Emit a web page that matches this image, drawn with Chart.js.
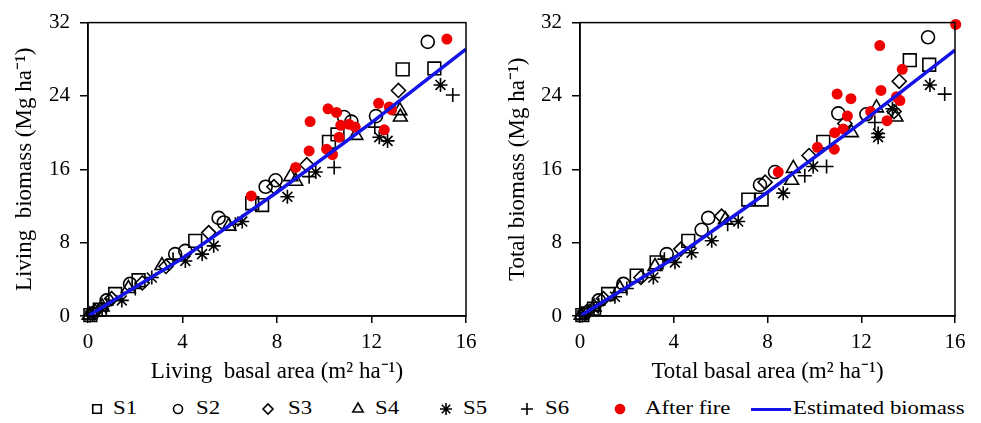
<!DOCTYPE html>
<html>
<head>
<meta charset="utf-8">
<script src="https://cdn.jsdelivr.net/npm/chart.js@4.4.0/dist/chart.umd.min.js"></script>
<style>
    body{margin:0;background:#fff;width:981px;height:423px;overflow:hidden;position:relative;font-family:"Liberation Serif","Times New Roman",serif;}
    #cajaIzq{position:absolute;left:0;top:0;width:490px;height:392px;}
    #cajaDer{position:absolute;left:490px;top:0;width:491px;height:392px;}
    .txtLey{position:absolute;top:397px;font-size:19px;line-height:22px;color:#000;white-space:nowrap;transform:scaleX(1.2);transform-origin:left center;}
    .marLey{position:absolute;top:399px;}
    #lineaLey{position:absolute;left:751px;top:408px;width:40px;height:3px;background:rgb(20,20,230);}
</style>
</head>
<body>
<div id="cajaIzq"><canvas id="graficoVivo" width="490" height="392"></canvas></div>
<div id="cajaDer"><canvas id="graficoTotal" width="491" height="392"></canvas></div>

<canvas class="marLey" id="ley1" width="20" height="20" style="left:87px"></canvas><span class="txtLey" style="left:113px">S1</span>
<canvas class="marLey" id="ley2" width="20" height="20" style="left:168px"></canvas><span class="txtLey" style="left:196px">S2</span>
<canvas class="marLey" id="ley3" width="20" height="20" style="left:258px"></canvas><span class="txtLey" style="left:288px">S3</span>
<canvas class="marLey" id="ley4" width="20" height="20" style="left:348px"></canvas><span class="txtLey" style="left:375px">S4</span>
<canvas class="marLey" id="ley5" width="20" height="20" style="left:436px"></canvas><span class="txtLey" style="left:463px">S5</span>
<canvas class="marLey" id="ley6" width="20" height="20" style="left:517px"></canvas><span class="txtLey" style="left:545px">S6</span>
<canvas class="marLey" id="ley7" width="20" height="20" style="left:610px"></canvas><span class="txtLey" style="left:645px">After fire</span>
<div id="lineaLey"></div><span class="txtLey" style="left:793px">Estimated biomass</span>

<script>
// ---- living basal area vs living biomass ----
const s1Vivo = [[0.1,0.1],[0.5,0.7],[1.15,2.4],[2.14,3.9],[4.54,8.2],[6.95,12.3],[7.37,12.1],[10.2,19.0],[10.56,19.8],[13.32,26.9],[14.66,27.0]]
const s2Vivo = [[0.2,0.3],[0.79,1.7],[1.78,3.5],[3.69,6.75],[4.12,7.1],[5.53,10.7],[5.75,10.2],[7.52,14.1],[7.94,14.8],[10.84,21.7],[11.15,21.2],[12.19,21.8],[14.38,29.9]]
const s3Vivo = [[0.3,0.5],[1.0,1.9],[2.3,3.6],[3.3,5.4],[5.11,9.1],[7.87,14.1],[9.26,16.5],[13.14,24.6]]
const s4Vivo = [[0.05,0.1],[0.6,1.0],[1.71,3.0],[3.13,5.5],[5.96,9.8],[8.58,15.2],[8.79,14.7],[11.34,19.7],[13.22,21.7],[13.2,22.4]]
const s5Vivo = [[0.1,0.05],[0.6,0.8],[1.43,1.7],[2.70,4.2],[4.12,6.0],[4.83,6.75],[5.32,7.65],[6.53,10.3],[8.44,13.0],[9.64,15.7],[12.33,19.5],[12.68,19.1],[14.92,25.2]]
const s6Vivo = [[0.2,0.1],[0.8,1.2],[2.0,3.0],[3.6,6.2],[6.24,10.0],[9.36,15.2],[10.42,16.2],[12.14,20.6],[15.44,24.1]]
const fuegoVivo = [[6.91,13.1],[8.79,16.2],[9.36,18.0],[9.40,21.2],[10.1,18.2],[10.16,22.6],[10.35,17.6],[10.52,22.2],[10.63,19.5],[10.70,20.8],[11.05,20.9],[11.31,20.6],[12.30,23.2],[12.54,20.3],[12.75,22.8],[12.85,22.5],[15.19,30.2]]
const estimadoVivo = [[0,0],[4,6.3],[8,13.5],[12,21.1],[16,29.1]]

// ---- total basal area vs total biomass ----
const s1Total = [[0.1,0.1],[0.6,0.8],[1.2,2.4],[2.42,4.4],[3.27,5.85],[4.62,8.2],[7.18,12.7],[7.75,12.7],[10.38,19.0],[14.07,27.9],[14.9,27.4]]
const s2Total = [[0.2,0.3],[0.8,1.7],[1.85,3.5],[3.70,6.75],[5.19,9.4],[5.47,10.7],[7.68,14.3],[8.32,15.7],[11.02,22.1],[12.22,22.0],[14.85,30.4]]
const s3Total = [[0.3,0.5],[1.0,1.9],[2.6,4.2],[4.3,7.3],[6.04,10.9],[7.9,14.6],[9.77,17.5],[11.3,21.0],[13.4,22.3],[13.62,25.6]]
const s4Total = [[0.05,0.1],[0.6,1.0],[1.7,3.0],[3.2,5.4],[6.2,10.5],[9.03,14.8],[9.1,16.1],[11.58,20.0],[12.65,22.7],[13.48,21.7]]
const s5Total = [[0.1,0.05],[0.6,0.8],[1.49,2.1],[3.13,4.2],[4.05,5.85],[4.76,6.9],[5.62,8.2],[6.75,10.3],[8.67,13.4],[9.95,16.3],[12.72,19.9],[12.72,19.5],[13.33,22.6],[14.93,25.2]]
const s6Total = [[0.2,0.1],[0.8,1.2],[2.0,3.0],[3.6,6.2],[6.3,10.0],[9.59,15.3],[10.52,16.3],[12.58,21.1],[15.56,24.2]]
const fuegoTotal = [[8.46,15.7],[10.13,18.4],[10.85,18.2],[10.87,20.0],[10.97,24.2],[11.23,20.4],[11.41,21.8],[11.56,23.7],[12.4,22.3],[12.79,29.5],[12.84,24.6],[13.1,21.3],[13.5,23.9],[13.65,23.5],[13.75,26.9],[16.03,31.8]]
const estimadoTotal = [[0,0],[4,6.3],[8,13.5],[12,21.1],[16,29.0]]

const ticksX = [0,4,8,12,16]
const ticksY = [0,8,16,24,32]

const negro = '#000'
const rojo = 'rgb(240,0,0)'
const azul = 'rgb(20,20,230)'

// estilo de cada serie (marcador, radio)
const estilos = [
    ['S1','rect',9],
    ['S2','circle',6.5],
    ['S3','rectRot',7],
    ['S4','triangle',8],
    ['S5','star',7],
    ['S6','cross',7]
]

const marco = {
    id: 'marco',
    afterDraw(chart){
        const a = chart.chartArea
        const ctx = chart.ctx
        ctx.save()
        ctx.strokeStyle = negro
        ctx.lineWidth = 1.5
        ctx.strokeRect(a.left, a.top, a.right - a.left, a.bottom - a.top)
        ctx.restore()
    }
}

function aPuntos(arr){
    return arr.map(p => ({x: p[0], y: p[1]}))
}

function armarDatasets(series, fuego, estimado){
    let datasets = []
    series.forEach(function(value,key){
        datasets.push({
            label: estilos[key][0],
            data: aPuntos(value),
            pointStyle: estilos[key][1],
            pointRadius: estilos[key][2],
            pointBorderWidth: 1.6,
            borderColor: negro,
            backgroundColor: 'rgba(0,0,0,0)',
            clip: false,
            order: 2
        })
    })
    datasets.push({
        label: 'After fire',
        data: aPuntos(fuego),
        pointStyle: 'circle',
        pointRadius: 5.5,
        pointBorderWidth: 0,
        borderColor: rojo,
        backgroundColor: rojo,
        clip: false,
        order: 1
    })
    datasets.push({
        label: 'Estimated biomass',
        data: aPuntos(estimado),
        showLine: true,
        pointRadius: 0,
        borderColor: azul,
        borderWidth: 3.5,
        backgroundColor: azul,
        clip: false,
        order: 0
    })
    return datasets
}

function grafico(id, series, fuego, estimado, tituloX, tituloY, anchoY, derecha, sepTitulo){

    const familia = "'Liberation Serif','Times New Roman',serif"
    const options = {
        responsive: false,
        animation: false,
        layout: { padding: {left: 0, top: 17, right: derecha, bottom: 0} },
        plugins: {
            legend: { display: false },
            tooltip: { enabled: false }
        },
        scales: {
            x: {
                type: 'linear',
                min: 0,
                max: 16,
                afterBuildTicks: function(axis){ axis.ticks = ticksX.map(v => ({value: v})) },
                afterFit: function(axis){ axis.height = 76 },
                ticks: { color: negro, font: {family: familia, size: 21}, padding: 7, maxRotation: 0 },
                grid: { drawOnChartArea: false, drawTicks: true, tickLength: 7, color: negro, lineWidth: 1.5 },
                border: { color: negro, width: 1.5 },
                title: { display: true, text: tituloX, color: negro, font: {family: familia, size: 23}, padding: {top: 0, bottom: 6} }
            },
            y: {
                type: 'linear',
                min: 0,
                max: 32,
                afterBuildTicks: function(axis){ axis.ticks = ticksY.map(v => ({value: v})) },
                afterFit: function(axis){ axis.width = anchoY },
                ticks: { color: negro, font: {family: familia, size: 21}, padding: 10 },
                grid: { drawOnChartArea: false, drawTicks: true, tickLength: 8, color: negro, lineWidth: 1.5 },
                border: { color: negro, width: 1.5 },
                title: { display: true, text: tituloY, color: negro, font: {family: familia, size: 23}, padding: {top: sepTitulo, bottom: 0} }
            }
        }
    }

    new Chart(document.getElementById(id), {
        type: 'scatter',
        data: { datasets: armarDatasets(series, fuego, estimado) },
        options: options,
        plugins: [marco]
    })
}

grafico('graficoVivo', [s1Vivo,s2Vivo,s3Vivo,s4Vivo,s5Vivo,s6Vivo], fuegoVivo, estimadoVivo,
    'Living  basal area (m² ha⁻¹)', 'Living  biomass (Mg ha⁻¹)', 88, 24, 11)
grafico('graficoTotal', [s1Total,s2Total,s3Total,s4Total,s5Total,s6Total], fuegoTotal, estimadoTotal,
    'Total basal area (m² ha⁻¹)', 'Total biomass (Mg ha⁻¹)', 90, 26, 14)

// marcadores de la leyenda
const marcasLey = [
    ['ley1','rect',6,negro],
    ['ley2','circle',4.5,negro],
    ['ley3','rectRot',5,negro],
    ['ley4','triangle',6,negro],
    ['ley5','star',6,negro],
    ['ley6','cross',6,negro],
    ['ley7','circle',4.5,rojo]
]
marcasLey.forEach(function(m){
    const ctx = document.getElementById(m[0]).getContext('2d')
    ctx.strokeStyle = m[3]
    ctx.fillStyle = m[0] === 'ley7' ? rojo : 'rgba(0,0,0,0)'
    ctx.lineWidth = 1.6
    Chart.helpers.drawPoint(ctx, {pointStyle: m[1], radius: m[2], rotation: 0, borderWidth: 1.6}, 10, 10)
})
</script>
</body>
</html>
